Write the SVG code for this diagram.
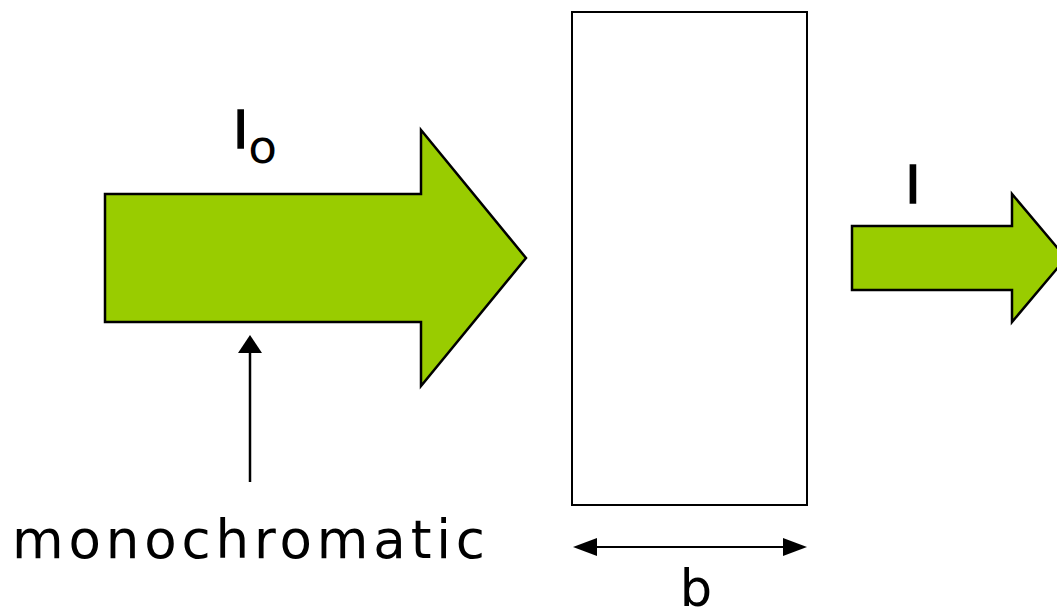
<svg xmlns="http://www.w3.org/2000/svg" width="1057" height="609" viewBox="0 0 1057 609">
<style>
.beam{fill:#99CC00;stroke:#000;stroke-width:2.5;stroke-linejoin:miter}
.box{fill:#fff;stroke:#000;stroke-width:2}
.t{font-family:"DejaVu Sans","Liberation Sans",Arial,sans-serif;fill:#000}
.ln{stroke:#000;fill:none}
</style>
<rect width="1057" height="609" fill="#fff"/>
<g id="incident-beam">
<polygon class="beam" points="105,194 421,194 421,130 526,258 421,386 421,322 105,322"/>
<text class="t" x="233" y="148" font-size="52" stroke="#000" stroke-width="1.5">I<tspan font-size="47" dy="15" stroke-width="0">o</tspan></text>
</g>
<g id="sample">
<rect class="box" x="572" y="12" width="235" height="493"/>
</g>
<g id="transmitted-beam">
<polygon class="beam" points="852,226 1012,226 1012,194 1066,258 1012,322 1012,290 852,290"/>
<text class="t" x="913" y="203" font-size="52" text-anchor="middle" stroke="#000" stroke-width="1.5">I</text>
</g>
<g id="monochromatic-label">
<text class="t" x="12" y="558" font-size="53" textLength="473" lengthAdjust="spacing">monochromatic</text>
</g>
<g id="b-label">
<text class="t" x="696" y="606" font-size="51" text-anchor="middle">b</text>
</g>
<g id="connectors">
<line class="ln" x1="250" y1="482" x2="250" y2="352" stroke-width="2.5"/>
<polygon points="250,335 262,353 238,353" fill="#000"/>
<line class="ln" x1="596" y1="547" x2="784" y2="547" stroke-width="2"/>
<polygon points="573,547 597,538 597,556" fill="#000"/>
<polygon points="807,547 783,538 783,556" fill="#000"/>
</g>
</svg>
